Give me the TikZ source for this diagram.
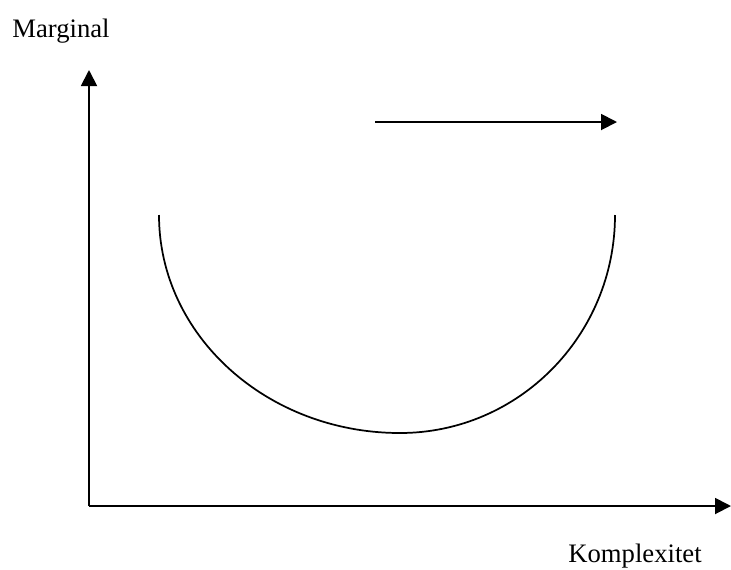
\documentclass[tikz,border=0pt]{standalone}
\usepackage{fontspec}
\setmainfont{Liberation Serif}
\usetikzlibrary{arrows.meta}

\begin{document}
\begin{tikzpicture}[
  x=0.75pt,y=-0.75pt,
  axis/.style={draw=black,line width=1.4pt,-{Triangle[length=12pt,width=12pt]}},
  curve/.style={draw=black,line width=1.3pt},
  label/.style={anchor=base,font=\fontsize{20}{24}\selectfont,inner sep=0pt}
]
\useasboundingbox (0,0) rectangle (731,569);
\coordinate (origin) at (89,506);
\coordinate (ytip) at (89,70);
\coordinate (xtip) at (731,506);
\coordinate (start) at (375,122);
\coordinate (goal) at (617,122);
\coordinate (left) at (159,215);
\coordinate (bottom) at (400,433);
\coordinate (right) at (615,215);
\node[label] (ylab) at (61,37) {Marginal};
\node[label] (xlab) at (635,562) {Komplexitet};
\draw[axis] (origin) -- (ytip);
\draw[axis] (origin) -- (xtip);
\draw[axis] (start) -- (goal);
\draw[curve] (left) .. controls (159,335.4) and (266.9,433) .. (bottom)
  .. controls (518.7,433) and (615,335.4) .. (right);
\end{tikzpicture}
\end{document}
